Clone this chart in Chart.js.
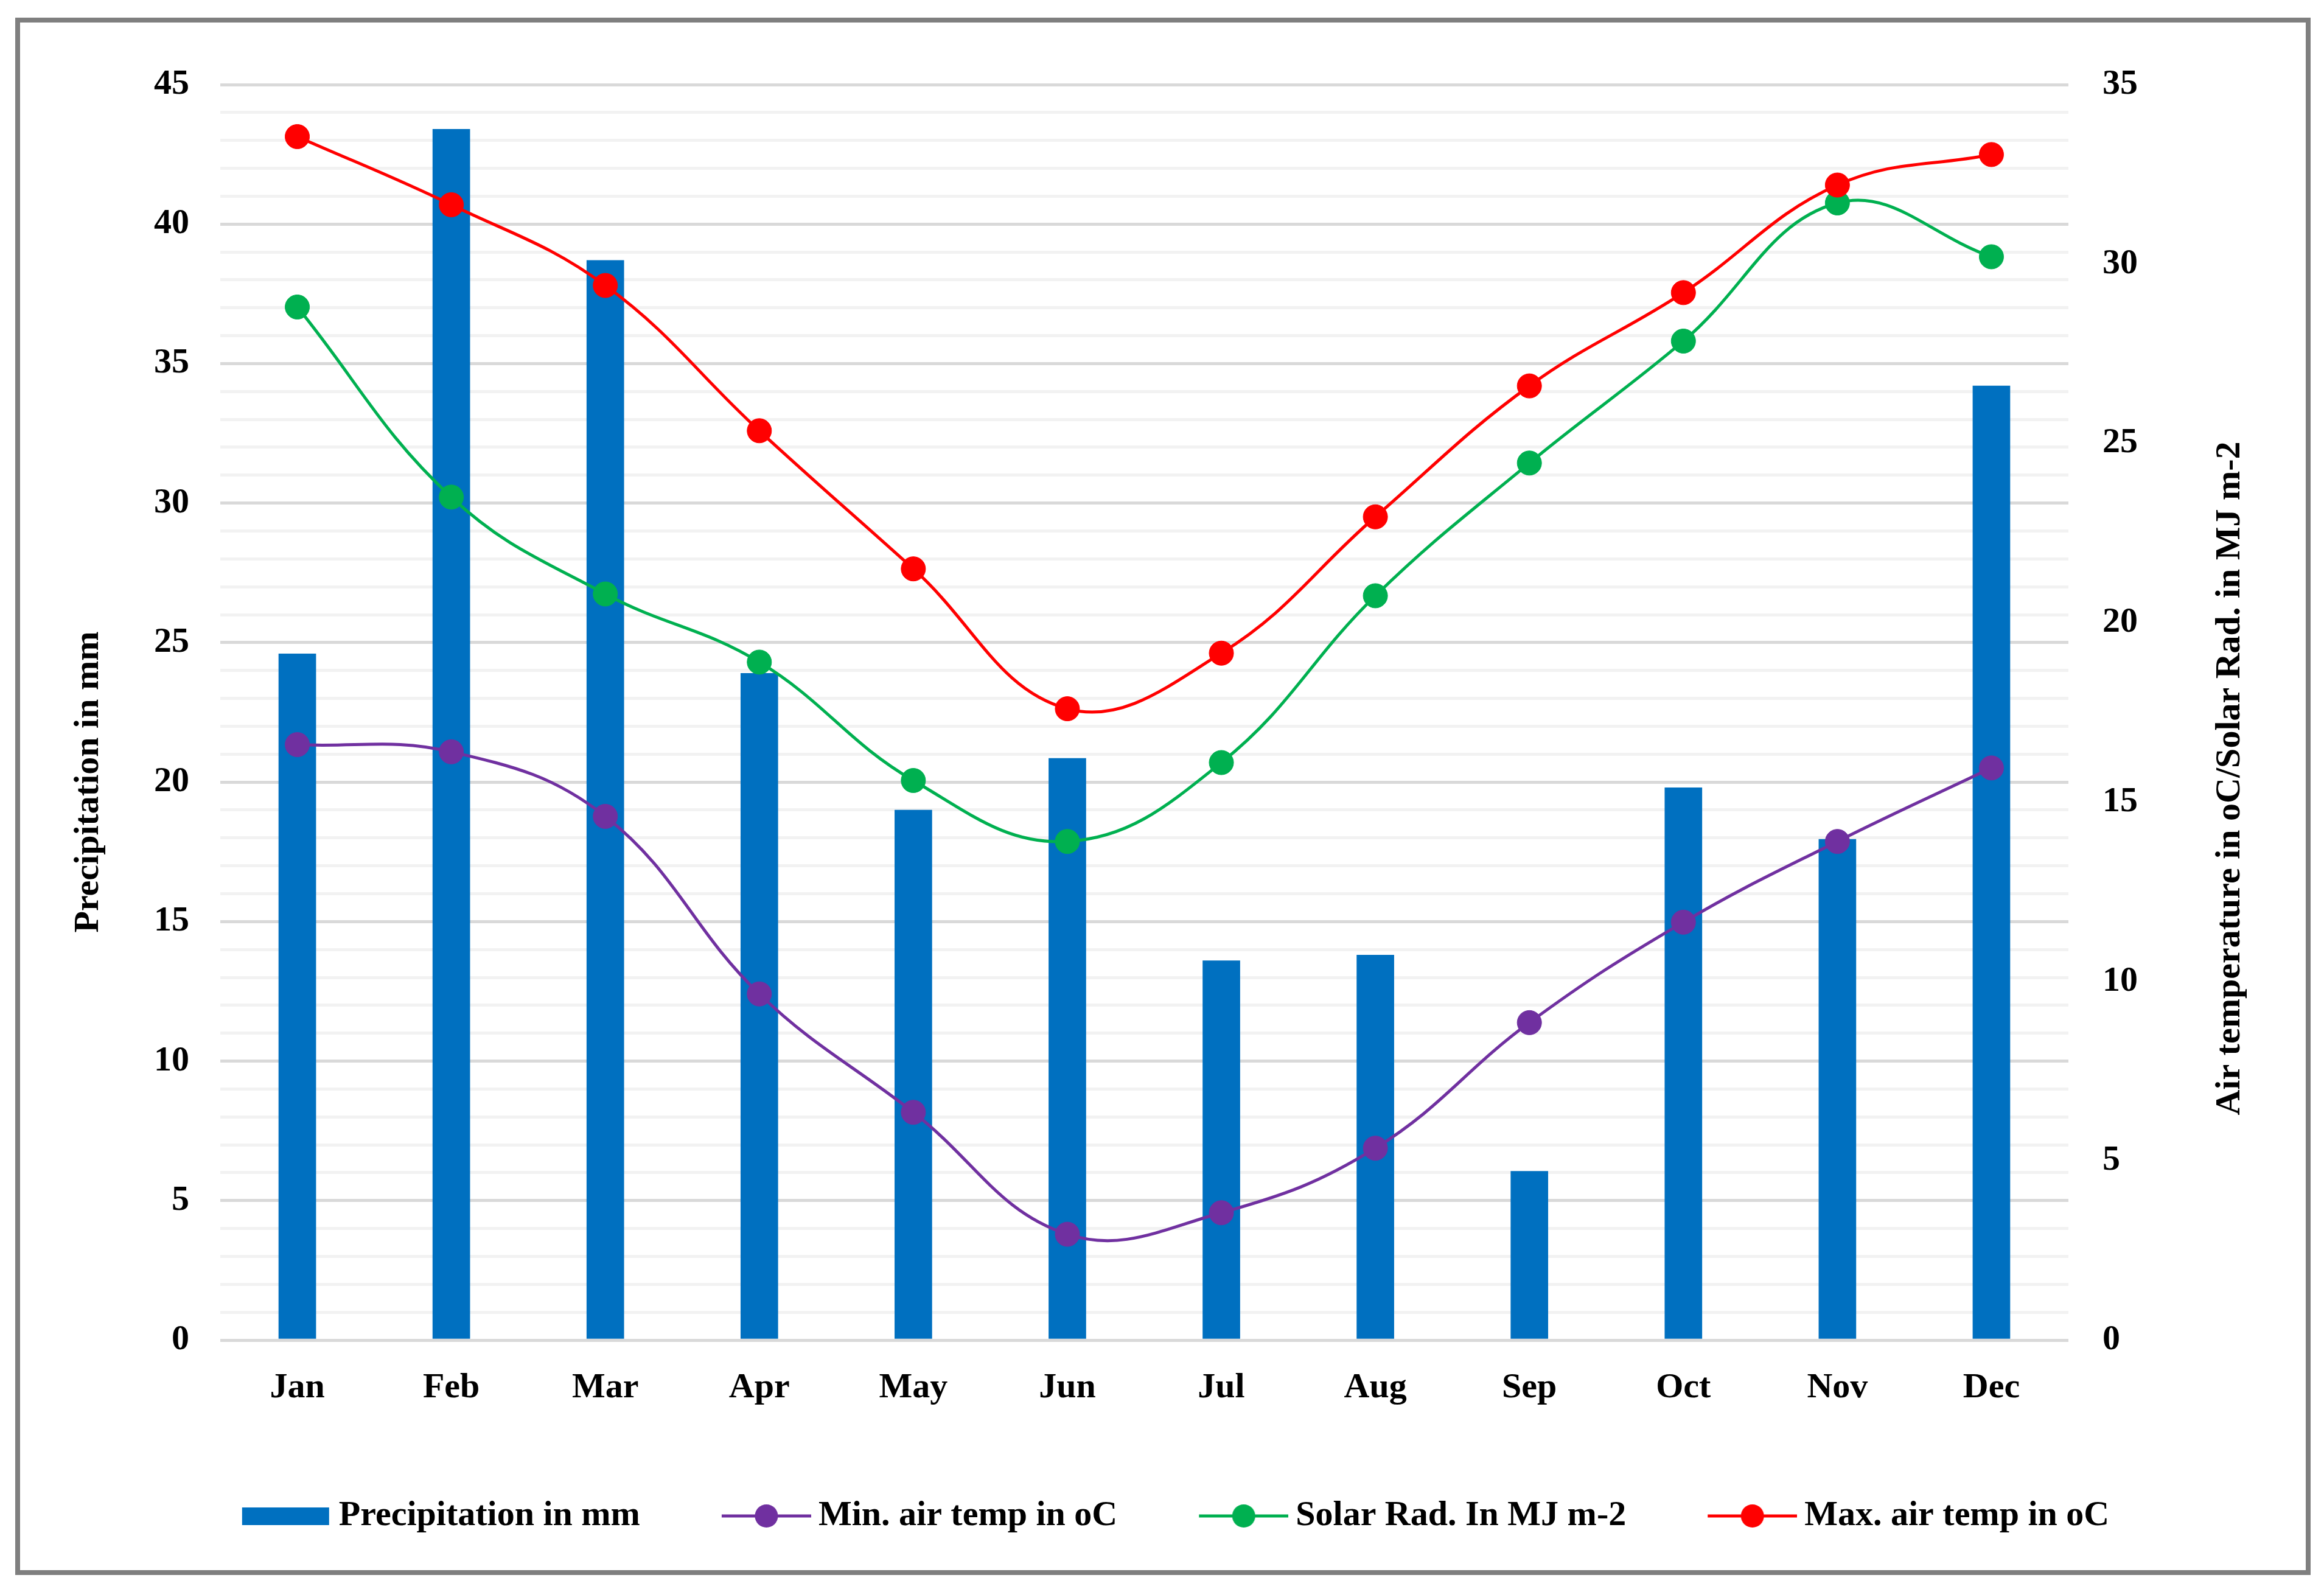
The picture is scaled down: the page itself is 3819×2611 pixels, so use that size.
<!DOCTYPE html>
<html>
<head>
<meta charset="utf-8">
<script src="https://cdn.jsdelivr.net/npm/chart.js@4.4.1/dist/chart.umd.min.js"></script>
<style>
  html, body { margin: 0; padding: 0; background: #fff; }
  #frame {
    position: absolute; left: 25px; top: 29px;
    width: 3772px; height: 2559px;
    box-sizing: border-box; border: 8px solid #7f7f7f; background: #fff;
  }
  canvas { display: block; }
</style>
</head>
<body>
<div id="frame"><canvas id="climateChart" width="3756" height="2543"></canvas></div>
<script>
const months = ["Jan", "Feb", "Mar", "Apr", "May", "Jun", "Jul", "Aug", "Sep", "Oct", "Nov", "Dec"];
const precipitation = [24.6, 43.4, 38.7, 23.9, 19.0, 20.85, 13.6, 13.8, 6.05, 19.8, 17.95, 34.2];
const minTemp = [16.6, 16.4, 14.6, 9.65, 6.35, 2.95, 3.55, 5.35, 8.85, 11.65, 13.9, 15.95];
const solarRad = [28.8, 23.5, 20.8, 18.9, 15.6, 13.9, 16.1, 20.75, 24.45, 27.85, 31.7, 30.2];
const maxTemp = [33.55, 31.65, 29.4, 25.35, 21.5, 17.6, 19.15, 22.95, 26.6, 29.2, 32.2, 33.05];

const leftTitle = "Precipitation in mm";
const rightTitle = "Air temperature in oC/Solar Rad. in MJ m-2";

const BLUE = "#0070C0", PURPLE = "#7030A0", GREEN = "#00B050", RED = "#FF0000";
const FONT = { family: '"Liberation Serif", "Times New Roman", serif', size: 58, weight: "bold" };

// legend markers drawn like Excel: box for the bars, line + dot for the series
const MARK = 147, GAP_EXTRA = 105, SHIFT = 17;
function marker(kind, color) {
  const c = document.createElement("canvas");
  c.width = MARK + GAP_EXTRA + 2 * SHIFT;
  c.height = 46;
  const g = c.getContext("2d");
  const x0 = c.width - MARK;
  g.fillStyle = color;
  g.strokeStyle = color;
  if (kind === "bar") {
    g.fillRect(x0, 9, 143, 29);
  } else {
    g.lineWidth = 5;
    g.beginPath();
    g.moveTo(x0, 23);
    g.lineTo(x0 + MARK, 23);
    g.stroke();
    g.beginPath();
    g.arc(x0 + MARK / 2, 23, 19, 0, Math.PI * 2);
    g.fill();
  }
  return c;
}
const markers = [marker("bar", BLUE), marker("line", PURPLE), marker("line", GREEN), marker("line", RED)];

const axisTitles = {
  id: "axisTitles",
  afterLayout(chart) {
    // Excel centres the legend a little left of the canvas middle
    chart.legend.left -= 40;
    chart.legend.right -= 40;
  },
  afterDraw(chart) {
    const ctx = chart.ctx;
    ctx.save();
    ctx.font = `bold ${FONT.size}px ${FONT.family}`;
    ctx.fillStyle = "#000";
    ctx.textAlign = "center";
    ctx.textBaseline = "middle";
    [[leftTitle, 113, 1248], [rightTitle, 3632, 1242]].forEach(([t, x, y]) => {
      ctx.save();
      ctx.translate(x, y);
      ctx.rotate(-Math.PI / 2);
      ctx.fillText(t, 0, 0);
      ctx.restore();
    });
    ctx.restore();
  }
};

function lineSet(label, data, color, order) {
  return {
    type: "line", label, data, yAxisID: "y1", order,
    borderColor: color, backgroundColor: color,
    pointBackgroundColor: color, pointBorderColor: color,
    borderWidth: 5, pointRadius: 20, pointBorderWidth: 1, tension: 0.4
  };
}

new Chart(document.getElementById("climateChart"), {
  type: "bar",
  data: {
    labels: months,
    datasets: [
      { type: "bar", label: "Precipitation in mm", data: precipitation, backgroundColor: BLUE,
        yAxisID: "y", order: 3, barThickness: 61 },
      lineSet("Min. air temp in oC", minTemp, PURPLE, 2),
      lineSet("Solar Rad. In MJ m-2", solarRad, GREEN, 1),
      lineSet("Max. air temp in oC", maxTemp, RED, 0)
    ]
  },
  options: {
    responsive: false,
    animation: false,
    devicePixelRatio: 1,
    layout: { padding: { top: 102, bottom: 50, left: 0, right: 0 } },
    scales: {
      x: {
        grid: { display: false },
        border: { display: false },
        ticks: { font: FONT, color: "#000", padding: 36 },
        afterFit: s => { s.height = 248; }
      },
      y: {
        position: "left", min: 0, max: 45,
        ticks: {
          stepSize: 1, autoSkip: false, maxTicksLimit: 100, padding: 51,
          font: FONT, color: "#000",
          callback: v => (v % 5 === 0 ? v : "")
        },
        grid: {
          lineWidth: 5, drawTicks: false,
          color: c => (c.tick && c.tick.value % 5 === 0 ? "#D9D9D9" : "#F2F2F2")
        },
        border: { display: false },
        afterFit: s => { s.width = 329; }
      },
      y1: {
        position: "right", min: 0, max: 35,
        ticks: { stepSize: 5, padding: 56, font: FONT, color: "#000" },
        grid: { display: false, drawTicks: false },
        border: { display: false },
        afterFit: s => { s.width = 390; }
      }
    },
    plugins: {
      tooltip: { enabled: false },
      legend: {
        position: "bottom",
        labels: {
          usePointStyle: true,
          pointStyleWidth: MARK + GAP_EXTRA,
          padding: 12,
          font: FONT,
          color: "#000",
          generateLabels(chart) {
            const items = Chart.defaults.plugins.legend.labels.generateLabels(chart);
            items.sort((a, b) => a.datasetIndex - b.datasetIndex);
            items.forEach(it => { it.pointStyle = markers[it.datasetIndex]; });
            return items;
          }
        }
      }
    }
  },
  plugins: [axisTitles]
});
</script>
</body>
</html>
